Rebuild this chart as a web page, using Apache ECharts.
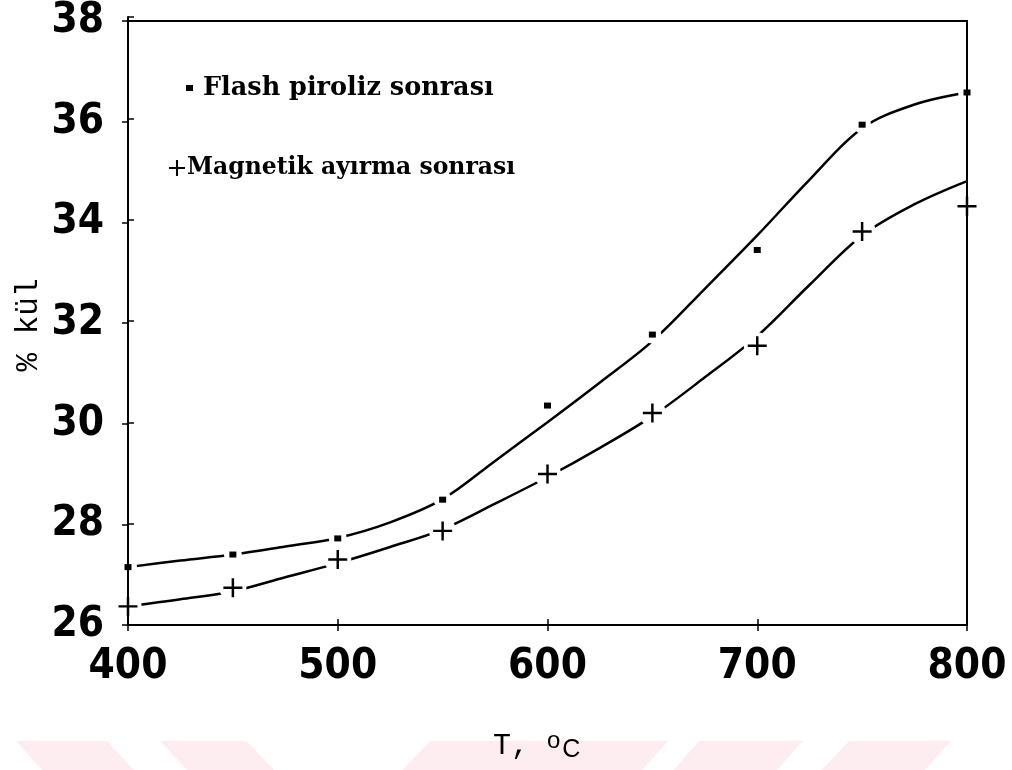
<!DOCTYPE html>
<html>
<head>
<meta charset="utf-8">
<title>% kül – T</title>
<script src="https://cdn.jsdelivr.net/npm/echarts@6/dist/echarts.min.js"></script>
<style>
  html, body { margin: 0; padding: 0; background: #fff; }
  #chart { width: 1012px; height: 770px; }
</style>
</head>
<body>
<div id="chart"></div>
<script>
// Measured temperatures (°C) and ash content (%)
const temps = [400, 450, 500, 550, 600, 650, 700, 750, 800];
const flashAsh = [27.15, 27.40, 27.72, 28.49, 30.36, 31.77, 33.45, 35.94, 36.58];
const magneticAsh = [26.37, 26.74, 27.30, 27.87, 29.00, 30.21, 31.55, 33.82, 34.32];

// Fitted curves through the measurements
const curveTemps = [400, 425, 450, 475, 500, 525, 550, 575, 600, 625, 650, 675, 700, 725, 750, 775, 800];
const flashCurve = [27.15, 27.28, 27.40, 27.56, 27.73, 28.04, 28.50, 29.26, 30.03, 30.82, 31.64, 32.68, 33.74, 34.85, 35.87, 36.34, 36.58];
const magneticCurve = [26.37, 26.51, 26.67, 26.95, 27.23, 27.55, 27.90, 28.41, 28.94, 29.52, 30.15, 30.92, 31.74, 32.76, 33.74, 34.36, 34.82];

// Axis ticks
const xTicks = { min: 400, max: 800, step: 100 };
const yTicks = { min: 26, max: 38, step: 2 };

const seriesNames = ['Flash piroliz sonrası', 'Magnetik ayırma sonrası'];

const pair = (xs, ys) => xs.map((x, i) => [x, ys[i]]);

const plusPath = 'path://M8.7,0h2.6v20h-2.6zM0,8.7h20v2.6h-20z';
const tickFont = "'Liberation Sans Narrow', 'DejaVu Sans Condensed', sans-serif";
const serifFont = "'DejaVu Serif', 'Liberation Serif', serif";
const monoFont = "'Liberation Mono', 'DejaVu Sans Mono', monospace";

// layers: curves at the bottom, white gaps above them, frame and points on top
const GAP_LAYER = 5;
const TOP_LAYER = 6;

const chart = echarts.init(document.getElementById('chart'), null, { renderer: 'canvas' });

function axisBase(extra) {
  return Object.assign({
    type: 'value',
    splitLine: { show: false },
    axisLine: { show: true, lineStyle: { color: '#000', width: 2 } },
    axisTick: { show: true, inside: false, length: 6, lineStyle: { color: '#000', width: 1.5 } },
    zlevel: TOP_LAYER,
    z: 6
  }, extra);
}

const labelStyle = {
  color: '#000',
  fontFamily: tickFont,
  fontWeight: 'bold',
  fontSize: 42
};

// Light stripes along the bottom edge of the page
const stripes = [
  [[16, 741], [107, 741], [135, 771], [43, 771]],
  [[160, 741], [246, 741], [275, 771], [188, 771]],
  [[430, 741], [668, 741], [641, 771], [402, 771]],
  [[699, 741], [803, 741], [776, 771], [673, 771]],
  [[849, 741], [951, 741], [924, 771], [821, 771]]
];

const gridBox = { left: 128, right: 45, top: 17, bottom: 145 };

const option = {
  backgroundColor: '#fff',
  animation: false,
  grid: [
    // frame and the outward ticks / labels
    Object.assign({ show: true, borderColor: '#000', borderWidth: 2, zlevel: TOP_LAYER, z: 6 }, gridBox),
    // same box again, carrying the inward half of each tick
    Object.assign({ show: false }, gridBox)
  ],
  xAxis: [
    axisBase({
      gridIndex: 0, min: xTicks.min, max: xTicks.max, interval: xTicks.step,
      position: 'bottom',
      axisLabel: Object.assign({ margin: 21 }, labelStyle)
    }),
    axisBase({
      gridIndex: 1, min: xTicks.min, max: xTicks.max, interval: xTicks.step,
      position: 'bottom',
      axisTick: { show: true, inside: true, length: 6, lineStyle: { color: '#000', width: 1.5 } },
      axisLabel: { show: false }
    })
  ],
  yAxis: [
    axisBase({
      gridIndex: 0, min: yTicks.min, max: yTicks.max, interval: yTicks.step,
      position: 'left',
      axisLabel: Object.assign({ margin: 24 }, labelStyle)
    }),
    axisBase({
      gridIndex: 1, min: yTicks.min, max: yTicks.max, interval: yTicks.step,
      position: 'left',
      axisTick: { show: true, inside: true, length: 6, lineStyle: { color: '#000', width: 1.5 } },
      axisLabel: { show: false }
    })
  ],
  legend: [
    {
      left: 181, top: 70,
      itemWidth: 7, itemHeight: 6,
      data: [{ name: seriesNames[0], icon: 'rect' }],
      itemStyle: { color: '#000', borderWidth: 0 },
      textStyle: { color: '#000', fontFamily: serifFont, fontWeight: 'bold', fontSize: 25.5, padding: [0, 0, 0, 5] }
    },
    {
      left: 164, top: 151,
      itemWidth: 16, itemHeight: 16,
      data: [{ name: seriesNames[1], icon: plusPath }],
      itemStyle: { color: '#000', borderWidth: 0 },
      textStyle: { color: '#000', fontFamily: serifFont, fontWeight: 'bold', fontSize: 23.5, padding: [0, 0, 0, -3] }
    }
  ],
  series: [
    // measured points
    {
      name: seriesNames[0], type: 'scatter', zlevel: TOP_LAYER, z: 7,
      data: pair(temps, flashAsh),
      symbol: 'rect', symbolSize: [7, 6],
      itemStyle: { color: '#000', opacity: 1 }
    },
    {
      name: seriesNames[1], type: 'scatter', zlevel: TOP_LAYER, z: 7,
      data: pair(temps, magneticAsh),
      symbol: plusPath, symbolSize: 19,
      itemStyle: { color: '#000', opacity: 1 }
    },
    // fitted curves
    {
      name: seriesNames[0], type: 'line', z: 1,
      data: pair(curveTemps, flashCurve),
      smooth: 0.35, showSymbol: false, symbol: 'none',
      lineStyle: { color: '#000', width: 2.5 }
    },
    {
      name: seriesNames[1], type: 'line', z: 1,
      data: pair(curveTemps, magneticCurve),
      smooth: 0.35, showSymbol: false, symbol: 'none',
      lineStyle: { color: '#000', width: 2.5 }
    },
    // opaque white discs that open small gaps in the curves around each point
    {
      name: seriesNames[0], type: 'scatter', zlevel: GAP_LAYER, z: 4, silent: true,
      data: pair(temps, flashAsh),
      symbol: 'circle', symbolSize: 18,
      itemStyle: { color: '#ffffff', opacity: 1, borderWidth: 0 }
    },
    {
      name: seriesNames[1], type: 'scatter', zlevel: GAP_LAYER, z: 4, silent: true,
      data: pair(temps, magneticAsh),
      symbol: 'circle', symbolSize: 27,
      itemStyle: { color: '#ffffff', opacity: 1, borderWidth: 0 }
    }
  ],
  graphic: [
    ...stripes.map(pts => ({
      type: 'polygon', z: -10, silent: true,
      shape: { points: pts },
      style: { fill: '#fdedf0' }
    })),
    {
      type: 'text', x: 29, y: 325, rotation: Math.PI / 2, z: 10,
      style: { text: '% kül', font: '31px ' + monoFont, fill: '#000', align: 'center', verticalAlign: 'middle' }
    },
    {
      type: 'text', x: 493, y: 746, z: 10,
      style: {
        text: '{a|T, }{b|o}{c|C}',
        fill: '#000', align: 'left', verticalAlign: 'middle',
        rich: {
          a: { font: '30px ' + monoFont, fill: '#000', lineHeight: 34 },
          b: { font: "24px 'Liberation Sans', sans-serif", fill: '#000', verticalAlign: 'top', lineHeight: 34, padding: [0, 2, 0, 0] },
          c: { font: "25px 'Liberation Sans', sans-serif", fill: '#000', verticalAlign: 'bottom', lineHeight: 30 }
        }
      }
    }
  ]
};

chart.setOption(option);
</script>
</body>
</html>
